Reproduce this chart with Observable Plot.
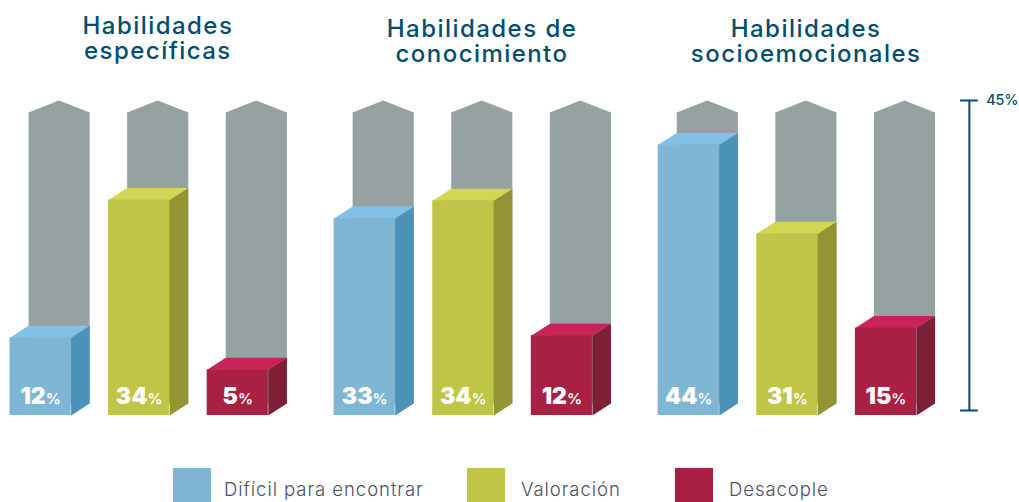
<!DOCTYPE html>
<html lang="es">
<head>
<meta charset="utf-8">
<script src="https://cdn.jsdelivr.net/npm/d3@7"></script>
<script src="https://cdn.jsdelivr.net/npm/@observablehq/plot@0.6"></script>
<style>
  html, body { margin: 0; padding: 0; background: #fff; overflow: hidden; }
  #chart svg { display: block; }
  .group-title text { letter-spacing: 1.45px; }
  #legend { position: relative; height: 42px; font-family: Inter, sans-serif; font-weight: 300;
            font-size: 18.5px; color: #4a4f68; letter-spacing: .95px; }
  #legend .swatch { position: absolute; top: 8px; width: 38px; height: 34px; }
  #legend .label { position: absolute; top: 18px; line-height: 22px; white-space: nowrap; }
</style>
</head>
<body>
<div id="chart"></div>
<div id="legend"></div>
<script>
// Data
const groups = ["Habilidades\nespecíficas", "Habilidades de\nconocimiento", "Habilidades\nsocioemocionales"];
const categories = ["Difícil para encontrar", "Valoración", "Desacople"];
// Printed labels (percent), one row per group
const labelsEspecificas = [12, 34, 5];
const labelsConocimiento = [33, 34, 12];
const labelsSocioemocionales = [44, 31, 15];
// Top of each bar as drawn, read against the 0-45% bracket
const levelsEspecificas = [12.3, 32.3, 7.65];
const levelsConocimiento = [29.6, 32.2, 12.6];
const levelsSocioemocionales = [40.3, 27.4, 13.7];
const axisMax = 45;

const frontColors = ["#7fb5d5", "#bfc547", "#aa2044"];
const topColors = ["#82c1e6", "#d3d653", "#c8245a"];
const sideColors = ["#4a92b8", "#939434", "#7e1f38"];
const greyColor = "#96a1a2";
const inkColor = "#004e70";

// Chart geometry in scale units: one unit = one bar slot / one percentage point
const groupStep = 3.287, barW = 0.62, depthX = 0.188, depthY = 1.74, shoulder = 1.74;
const allLabels = [labelsEspecificas, labelsConocimiento, labelsSocioemocionales];
const allLevels = [levelsEspecificas, levelsConocimiento, levelsSocioemocionales];

const bars = allLabels.flatMap((row, g) => row.map((label, c) => ({
  id: `${g}-${c}`, g, c, label, level: allLevels[g][c],
  x0: g * groupStep + c
})));
const floor = -depthY + 1.01;
const backFloor = floor + depthY;

const polygon = (b, key, fill, pts) => pts.map(([x, y]) => ({id: `${b.id}-${key}`, x, y, fill}));
const greyFaces = bars.flatMap(b => polygon(b, "g", greyColor, [
  [b.x0 + depthX, backFloor], [b.x0 + depthX, axisMax - shoulder],
  [b.x0 + depthX + barW / 2, axisMax],
  [b.x0 + depthX + barW, axisMax - shoulder], [b.x0 + depthX + barW, backFloor]
]));
const sideFaces = bars.flatMap(b => polygon(b, "s", sideColors[b.c], [
  [b.x0 + barW, floor], [b.x0 + barW + depthX, backFloor],
  [b.x0 + barW + depthX, b.level], [b.x0 + barW, b.level - depthY]
]));
const topFaces = bars.flatMap(b => polygon(b, "t", topColors[b.c], [
  [b.x0, b.level - depthY], [b.x0 + depthX, b.level],
  [b.x0 + barW + depthX, b.level], [b.x0 + barW, b.level - depthY]
]));
const face = (data) => Plot.line(data, {x: "x", y: "y", z: "id", fill: "fill", stroke: "none"});

const plot = Plot.plot({
  width: 1019, height: 460,
  marginTop: 100, marginBottom: 50, marginLeft: 9.5, marginRight: 23.5,
  x: {domain: [0, 10], axis: null},
  y: {domain: [0, axisMax], axis: null},
  color: {type: "identity"},
  style: {background: "#fff"},
  marks: [
    face(greyFaces), face(sideFaces), face(topFaces),
    Plot.rect(bars, {
      x1: "x0", x2: d => d.x0 + barW,
      y1: floor, y2: d => d.level - depthY,
      fill: d => frontColors[d.c]
    }),
    Plot.text(bars, {
      x: d => d.x0 + barW / 2, y: floor, text: d => `${d.label}%`,
      dy: -12, lineAnchor: "bottom", textAnchor: "middle", fill: "#fff",
      fontFamily: "Inter, sans-serif", fontWeight: 900, fontSize: 23,
      className: "value-label"
    }),
    ...groups.map((t, g) => Plot.text([t], {
      x: () => g * groupStep + 1.5, frameAnchor: "top", text: d => d,
      dy: g === 0 ? -84 : -81, lineHeight: 1.04, textAnchor: "middle", fill: inkColor,
      fontFamily: "Inter, sans-serif", fontWeight: 500, fontSize: 24,
      className: "group-title"
    })),
    Plot.ruleX([axisMax], {x: () => 9.73, y1: 0, y2: axisMax, stroke: inkColor, strokeWidth: 2}),
    Plot.ruleY([0, axisMax], {y: d => d, x1: 9.64, x2: 9.82, stroke: inkColor, strokeWidth: 2}),
    Plot.text([axisMax], {
      x: () => 9.9, y: d => d, text: d => `${d}%`, textAnchor: "start", fill: inkColor,
      fontFamily: "Inter, sans-serif", fontWeight: 500, fontSize: 14.3
    })
  ]
});

// Smaller, lighter percent sign next to each printed value
plot.querySelectorAll(".value-label text").forEach(node => {
  const digits = node.textContent.replace("%", "");
  node.textContent = digits;
  const sign = document.createElementNS("http://www.w3.org/2000/svg", "tspan");
  sign.textContent = "%";
  sign.setAttribute("font-size", "15");
  sign.setAttribute("font-weight", "600");
  node.appendChild(sign);
});
document.getElementById("chart").appendChild(plot);

// Legend below the chart
const legendX = [[173, 224], [467, 521], [675, 729]];
const legend = document.getElementById("legend");
categories.forEach((name, i) => {
  const sw = document.createElement("div");
  sw.className = "swatch";
  sw.style.left = legendX[i][0] + "px";
  sw.style.background = frontColors[i];
  const lb = document.createElement("div");
  lb.className = "label";
  lb.style.left = legendX[i][1] + "px";
  lb.textContent = name;
  legend.append(sw, lb);
});
</script>
</body>
</html>
